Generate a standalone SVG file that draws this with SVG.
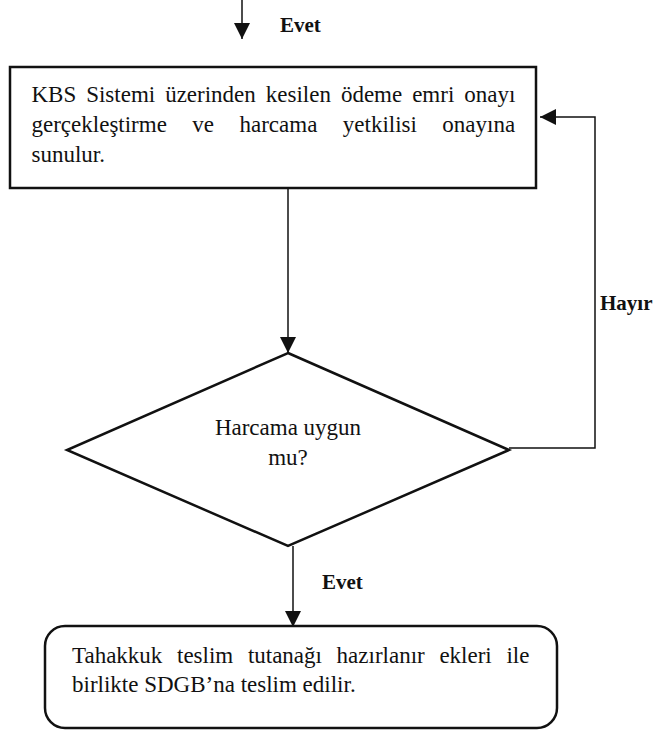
<svg xmlns="http://www.w3.org/2000/svg" width="655" height="733" viewBox="0 0 655 733">
<style>
.t{font-size:23px;fill:#111}
.b{font-size:21px;font-weight:bold;fill:#111}
.n{fill:#fff;stroke:#111;stroke-width:2.5}
.c{fill:none;stroke:#111;stroke-width:1.5}
</style>
<defs>
<marker id="ah" markerUnits="userSpaceOnUse" markerWidth="16" markerHeight="16" viewBox="0 0 16 16" refX="16" refY="8" orient="auto">
<path d="M0,0 L16,8 L0,16 Z" fill="#111"/>
</marker>
</defs>
<g id="connectors" font-family="Liberation Serif, DejaVu Serif, serif">
<line class="c" x1="242" y1="0" x2="242" y2="39" marker-end="url(#ah)"/>
<line class="c" x1="288" y1="188" x2="288" y2="353" marker-end="url(#ah)"/>
<polyline class="c" points="509,448 595,448 595,117 540,117" marker-end="url(#ah)"/>
<line class="c" x1="293" y1="546" x2="293" y2="627" marker-end="url(#ah)"/>
<text class="b" x="280" y="32">Evet</text>
<text class="b" x="600" y="310">Hayır</text>
<text class="b" x="322" y="589">Evet</text>
</g>
<g id="box1" font-family="Liberation Serif, DejaVu Serif, serif">
<rect class="n" x="10" y="67" width="526" height="121"/>
<text class="t" x="31.5" y="102" word-spacing="4.2">KBS Sistemi üzerinden kesilen ödeme emri onayı</text>
<text class="t" x="31.5" y="132" word-spacing="19.7">gerçekleştirme ve harcama yetkilisi onayına</text>
<text class="t" x="31.5" y="162">sunulur.</text>
</g>
<g id="decision" font-family="Liberation Serif, DejaVu Serif, serif">
<polygon class="n" points="288,353 509,450 288,546 67,450"/>
<text class="t" x="288" y="435" text-anchor="middle">Harcama uygun</text>
<text class="t" x="288" y="465" text-anchor="middle">mu?</text>
</g>
<g id="box3" font-family="Liberation Serif, DejaVu Serif, serif">
<rect class="n" x="45" y="626" width="512" height="102" rx="20" ry="20"/>
<text class="t" x="72" y="663" word-spacing="8.9">Tahakkuk teslim tutanağı hazırlanır ekleri ile</text>
<text class="t" x="72" y="692">birlikte SDGB’na teslim edilir.</text>
</g>
</svg>
